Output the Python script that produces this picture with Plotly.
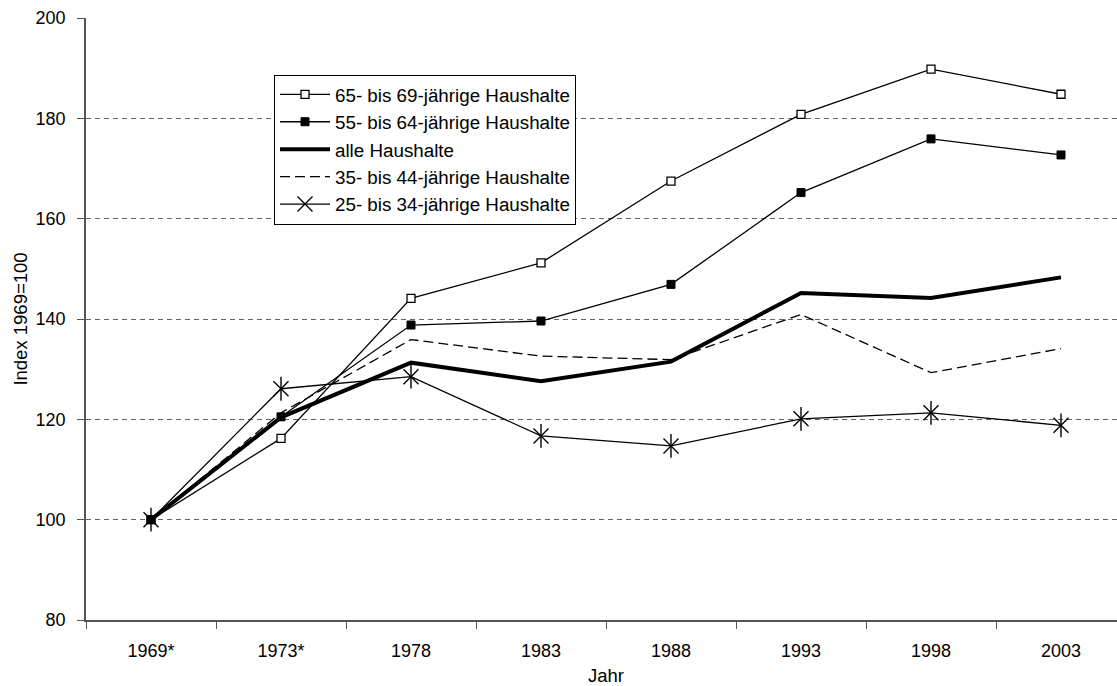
import plotly.graph_objects as go

years = ["1969*", "1973*", "1978", "1983", "1988", "1993", "1998", "2003"]
hh_65_69 = [100, 116.2, 144.1, 151.2, 167.5, 180.8, 189.8, 184.8]
hh_55_64 = [100, 120.5, 138.8, 139.6, 146.9, 165.2, 175.9, 172.7]
alle = [100, 120.4, 131.3, 127.6, 131.5, 145.2, 144.2, 148.3]
hh_35_44 = [100, 121.3, 135.9, 132.6, 131.9, 140.9, 129.3, 134.1]
hh_25_34 = [100, 126.1, 128.5, 116.7, 114.7, 120.1, 121.3, 118.8]

names = ["65- bis 69-jährige Haushalte", "55- bis 64-jährige Haushalte",
         "alle Haushalte", "35- bis 44-jährige Haushalte",
         "25- bis 34-jährige Haushalte"]
y_ticks = [80, 100, 120, 140, 160, 180, 200]
grid_vals = [100, 120, 140, 160, 180]

FONT = "Liberation Sans, Arial, sans-serif"

fig = go.Figure()
fig.add_trace(go.Scatter(x=years, y=hh_65_69, name=names[0], mode="lines+markers",
                         line=dict(color="black", width=1.3),
                         marker=dict(symbol="square", size=8, color="white",
                                     line=dict(color="black", width=1.3))))
fig.add_trace(go.Scatter(x=years, y=hh_55_64, name=names[1], mode="lines+markers",
                         line=dict(color="black", width=1.3),
                         marker=dict(symbol="square", size=8, color="black",
                                     line=dict(color="black", width=1))))
fig.add_trace(go.Scatter(x=years, y=alle, name=names[2], mode="lines",
                         line=dict(color="black", width=4)))
fig.add_trace(go.Scatter(x=years, y=hh_35_44, name=names[3], mode="lines",
                         line=dict(color="black", width=1.3, dash="10px,5px")))
fig.add_trace(go.Scatter(x=years, y=hh_25_34, name=names[4], mode="lines+markers",
                         line=dict(color="black", width=1.3),
                         marker=dict(symbol="x-thin-open", size=15, color="black",
                                     line=dict(color="black", width=1.4))))
fig.add_trace(go.Scatter(x=years, y=hh_25_34, name=names[4], mode="markers",
                         showlegend=False,
                         marker=dict(symbol="line-ns-open", size=17, color="black",
                                     line=dict(color="black", width=1.4))))

fig.update_layout(
    width=1126, height=686,
    margin=dict(l=86, r=0, t=18, b=66, autoexpand=False),
    plot_bgcolor="white", paper_bgcolor="white",
    font=dict(family=FONT, size=18, color="black"),
    showlegend=True,
    legend=dict(x=(274 - 86) / 1040, y=0.906, xanchor="left", yanchor="top",
                bgcolor="white", bordercolor="black", borderwidth=1,
                font=dict(size=18.8), itemwidth=50, tracegroupgap=0),
    xaxis=dict(type="category", range=[-0.5, 7.5], tickson="boundaries",
               showline=True, linecolor="#555555", linewidth=1.5,
               ticks="outside", ticklen=7, tickcolor="#555555", tickwidth=1,
               showgrid=False, zeroline=False, ticklabelstandoff=14,
               title=dict(text="Jahr", standoff=23, font=dict(size=18.5))),
    yaxis=dict(range=[80, 200], tickmode="array", tickvals=y_ticks,
               showline=True, linecolor="#555555", linewidth=1.5,
               ticks="outside", ticklen=7, tickcolor="#555555", tickwidth=1,
               showgrid=False, zeroline=False, ticklabelstandoff=8,
               minor=dict(tickmode="array", tickvals=grid_vals, showgrid=True,
                          gridcolor="#666666", griddash="5px,4px", gridwidth=1,
                          ticks=""),
               title=dict(text="Index 1969=100", standoff=3, font=dict(size=18.5))),
)

fig.write_html("out.html",
               config={"displayModeBar": False},
               post_script="document.body.style.margin='0';"
                           "document.body.style.overflow='hidden';"
                           "document.documentElement.style.overflow='hidden';")
